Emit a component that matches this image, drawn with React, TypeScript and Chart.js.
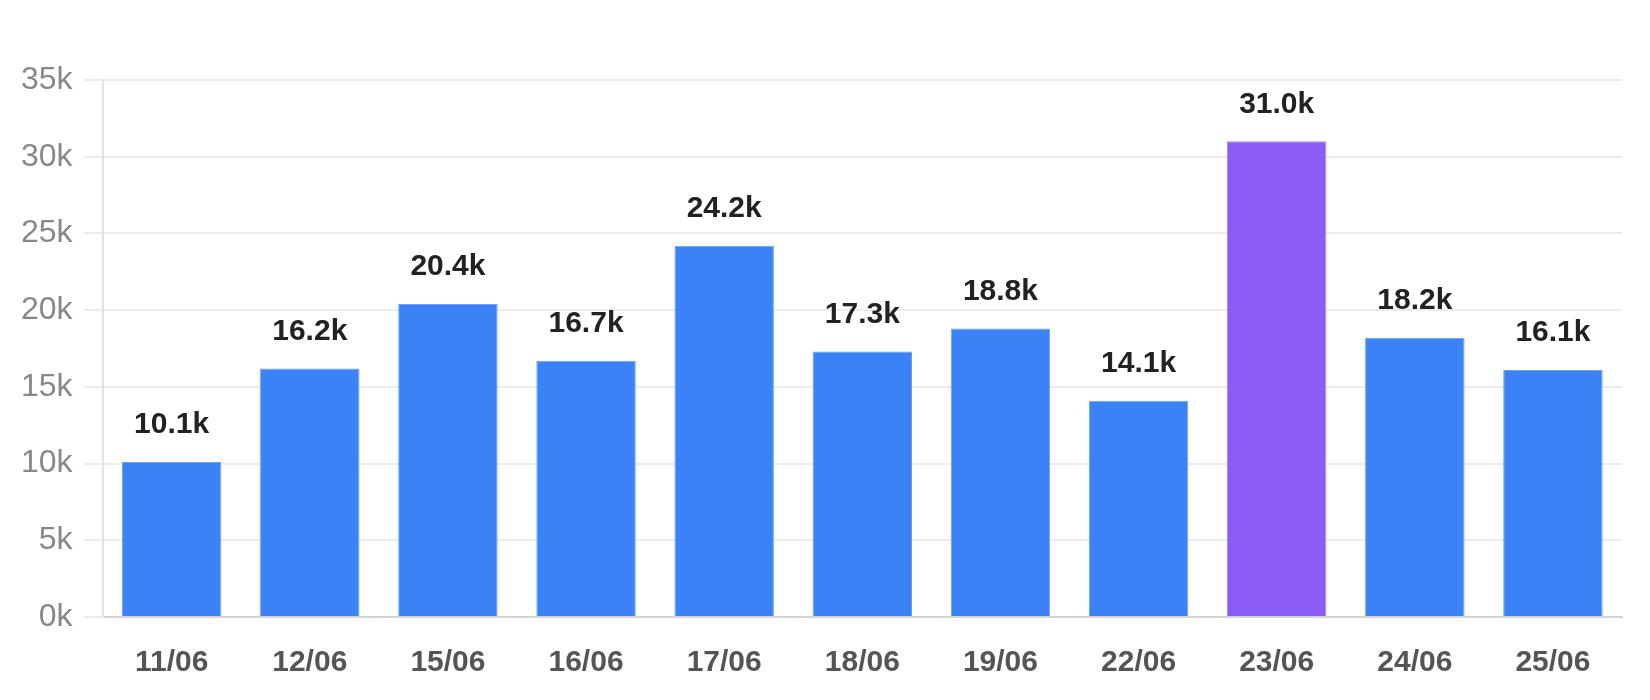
import React, { useEffect, useRef } from "react";
import { Chart, registerables } from "chart.js";

Chart.register(...registerables);

const categories = ["11/06", "12/06", "15/06", "16/06", "17/06", "18/06", "19/06", "22/06", "23/06", "24/06", "25/06"];
const values = [10100, 16200, 20400, 16700, 24200, 17300, 18800, 14100, 31000, 18200, 16100];
const highlightIndex = 8;
const yTicks = [0, 5000, 10000, 15000, 20000, 25000, 30000, 35000];

const BLUE = "#3b82f6";
const BLUE_BORDER = "#6aa2f8";
const PURPLE = "#8b5cf6";
const PURPLE_BORDER = "#a684f8";

const fmtK = (v: number, digits: number) => (v / 1000).toFixed(digits) + "k";

const valueLabels = {
  id: "valueLabels",
  afterDatasetsDraw(chart: any) {
    const ctx = chart.ctx;
    const meta = chart.getDatasetMeta(0);
    const data = chart.data.datasets[0].data as number[];
    ctx.save();
    ctx.font = "bold 30px 'Liberation Sans', Arial, sans-serif";
    ctx.fillStyle = "#222222";
    ctx.textAlign = "center";
    ctx.textBaseline = "middle";
    meta.data.forEach((bar: any, i: number) => {
      ctx.fillText(fmtK(data[i], 1), bar.x, bar.y - 37);
    });
    ctx.restore();
  },
};

export default function App() {
  const canvasRef = useRef<HTMLCanvasElement | null>(null);

  useEffect(() => {
    if (!canvasRef.current) return;
    const chart = new Chart(canvasRef.current, {
      type: "bar",
      data: {
        labels: categories,
        datasets: [
          {
            data: values,
            backgroundColor: values.map((_, i) => (i === highlightIndex ? PURPLE : BLUE)),
            borderColor: values.map((_, i) => (i === highlightIndex ? PURPLE_BORDER : BLUE_BORDER)),
            borderWidth: 1,
          },
        ],
      },
      options: {
        animation: false,
        responsive: false,
        maintainAspectRatio: false,
        layout: { padding: { top: 80, right: 28, left: 10, bottom: -9 } },
        plugins: {
          legend: { display: false },
          tooltip: { enabled: false },
        },
        scales: {
          x: {
            grid: { display: false, drawTicks: false },
            border: { display: true, color: "#d4d4d4", width: 2 },
            ticks: {
              color: "#555555",
              padding: 28,
              font: { family: "'Liberation Sans', Arial, sans-serif", size: 30, weight: "bold" },
            },
          },
          y: {
            min: 0,
            max: 35000,
            afterBuildTicks: (axis: any) => {
              axis.ticks = yTicks.map((v) => ({ value: v }));
            },
            grid: { color: "#ececec", lineWidth: 2, tickLength: 19 },
            border: { display: true, color: "#e3e3e3", width: 2 },
            ticks: {
              color: "#888888",
              padding: 11,
              callback: (v: any) => fmtK(Number(v), 0),
              font: { family: "'Liberation Sans', Arial, sans-serif", size: 32 },
            },
          },
        },
      },
      plugins: [valueLabels],
    });
    return () => chart.destroy();
  }, []);

  return (
    <div style={{ position: "fixed", left: 0, top: 0, width: 1650, height: 700, background: "#fff" }}>
      <canvas ref={canvasRef} width={1650} height={700} style={{ width: 1650, height: 700 }} />
    </div>
  );
}
